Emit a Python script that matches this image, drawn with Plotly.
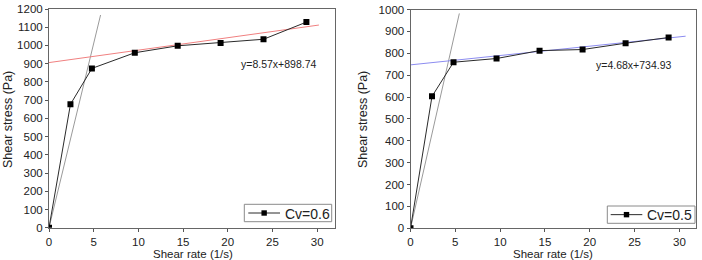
import plotly.graph_objects as go

# ---- data ----
shear_rate = [0, 2.4, 4.8, 9.6, 14.4, 19.2, 24.0, 28.8]
stress_cv06 = [0, 677, 874, 960, 998, 1014, 1034, 1128]
stress_cv05 = [0, 603, 759, 776, 812, 817, 846, 872]

# tangent line through origin (gray)
tan06_x = [0, 5.77]
tan06_y = [0, 1167]
tan05_x = [0, 5.45]
tan05_y = [0, 982]

# linear fit lines (as drawn)
fit06_x = [0, 30.2]
fit06_y = [906, 1112]
fit05_x = [0, 30.7]
fit05_y = [747, 878]

eq06 = "y=8.57x+898.74"
eq05 = "y=4.68x+734.93"
name06 = "Cv=0.6"
name05 = "Cv=0.5"

x_ticks = [0, 5, 10, 15, 20, 25, 30]

W, H = 702, 260
FONT = "Liberation Sans, Arial, sans-serif"
TXT = "#222222"

def px(x):
    return x / W

def py(y):
    return (H - y) / H

fig = go.Figure()

# left panel
fig.add_trace(go.Scatter(x=tan06_x, y=tan06_y, mode="lines",
                         line=dict(color="#9a9a9a", width=1), showlegend=False,
                         xaxis="x", yaxis="y"))
fig.add_trace(go.Scatter(x=fit06_x, y=fit06_y, mode="lines",
                         line=dict(color="#f08080", width=1), showlegend=False,
                         xaxis="x", yaxis="y"))
fig.add_trace(go.Scatter(x=shear_rate, y=stress_cv06, mode="lines+markers", name=name06,
                         line=dict(color="#2a2a2a", width=1),
                         marker=dict(symbol="square", size=6, color="#000000"),
                         showlegend=False, xaxis="x", yaxis="y"))

# right panel
fig.add_trace(go.Scatter(x=tan05_x, y=tan05_y, mode="lines",
                         line=dict(color="#9a9a9a", width=1), showlegend=False,
                         xaxis="x2", yaxis="y2"))
fig.add_trace(go.Scatter(x=fit05_x, y=fit05_y, mode="lines",
                         line=dict(color="#8c8cf0", width=1), showlegend=False,
                         xaxis="x2", yaxis="y2"))
fig.add_trace(go.Scatter(x=shear_rate, y=stress_cv05, mode="lines+markers", name=name05,
                         line=dict(color="#2a2a2a", width=1),
                         marker=dict(symbol="square", size=6, color="#000000"),
                         showlegend=False, xaxis="x2", yaxis="y2"))

axis_common = dict(showgrid=False, zeroline=False, showline=True, mirror=True,
                   linecolor="#666666", linewidth=1, ticks="outside", ticklen=3,
                   tickcolor="#555555", tickwidth=1,
                   tickfont=dict(family=FONT, size=11.5, color=TXT))

fig.update_layout(
    width=W, height=H,
    margin=dict(l=0, r=0, t=0, b=0, autoexpand=False),
    paper_bgcolor="white", plot_bgcolor="white",
    font=dict(family=FONT, color=TXT),
    showlegend=False,
    xaxis=dict(domain=[px(49), px(335)], range=[0, 32], tickvals=x_ticks,
               anchor="y", **axis_common),
    yaxis=dict(domain=[py(227.7), py(9)], range=[0, 1200], dtick=100,
               anchor="x", **axis_common),
    xaxis2=dict(domain=[px(410.5), px(695.5)], range=[0, 31.8], tickvals=x_ticks,
                anchor="y2", **axis_common),
    yaxis2=dict(domain=[py(228.3), py(9.5)], range=[0, 1000], dtick=100,
                anchor="x2", **axis_common),
)

# legend boxes (drawn as paper-referenced decorations)
shapes = []
ann = []
legend_specs = [
    # name, box x0, x1, y0(top), y1(bottom), line x0, x1, text x
    (name06, 244.3, 331.7, 204.3, 221.7, 248.3, 280.0, 282.5),
    (name05, 607.3, 695.0, 206.0, 223.3, 610.7, 642.3, 645.0),
]
for nm, bx0, bx1, by0, by1, lx0, lx1, tx in legend_specs:
    cy = (by0 + by1) / 2
    shapes.append(dict(type="rect", xref="paper", yref="paper",
                       x0=px(bx0), x1=px(bx1), y0=py(by1), y1=py(by0),
                       line=dict(color="#8a8a8a", width=1), fillcolor="white", layer="above"))
    shapes.append(dict(type="line", xref="paper", yref="paper",
                       x0=px(lx0), x1=px(lx1), y0=py(cy), y1=py(cy),
                       line=dict(color="#2a2a2a", width=1), layer="above"))
    mx = (lx0 + lx1) / 2
    shapes.append(dict(type="rect", xref="paper", yref="paper",
                       x0=px(mx - 2.7), x1=px(mx + 2.7), y0=py(cy + 2.7), y1=py(cy - 2.7),
                       line=dict(width=0), fillcolor="#000000", layer="above"))
    ann.append(dict(text=nm, x=px(tx), y=py(cy + 0.5), xref="paper", yref="paper",
                    xanchor="left", yanchor="middle", showarrow=False,
                    font=dict(family=FONT, size=14, color=TXT)))

ann.append(dict(text=eq06, x=px(278), y=py(63.5), xref="paper", yref="paper",
                xanchor="center", yanchor="middle",
                showarrow=False, font=dict(family=FONT, size=10.5, color=TXT)))
ann.append(dict(text=eq05, x=px(633), y=py(65), xref="paper", yref="paper",
                xanchor="center", yanchor="middle",
                showarrow=False, font=dict(family=FONT, size=10.5, color=TXT)))
for cx in (192.5, 553):
    ann.append(dict(text="Shear rate (1/s)", x=px(cx), y=py(253.6), xref="paper", yref="paper",
                    xanchor="center", yanchor="middle",
                    showarrow=False, font=dict(family=FONT, size=11.5, color=TXT)))
for cx in (8, 363):
    ann.append(dict(text="Shear stress (Pa)", x=px(cx), y=py(120), xref="paper", yref="paper",
                    xanchor="center", yanchor="middle",
                    textangle=-90, showarrow=False, font=dict(family=FONT, size=12.5, color=TXT)))
fig.update_layout(annotations=ann, shapes=shapes)

fig.write_html("out.html")
